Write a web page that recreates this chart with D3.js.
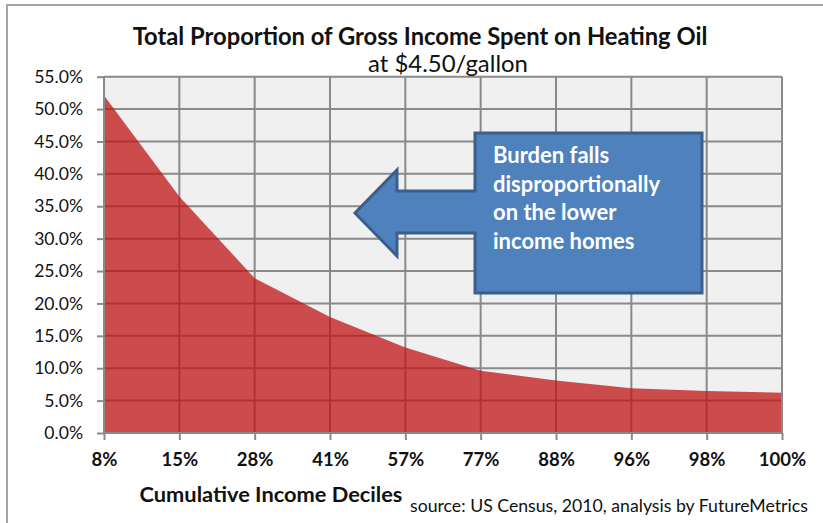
<!DOCTYPE html>
<html>
<head>
<meta charset="utf-8">
<script src="https://cdn.jsdelivr.net/npm/d3@7"></script>
<style>
  body { margin: 0; background: #fff; }
  svg { display: block; font-family: Lato, "Open Sans", sans-serif; }
</style>
</head>
<body>
<div id="chart-area"></div>
<script>
// data
var categories = ["8%", "15%", "28%", "41%", "57%", "77%", "88%", "96%", "98%", "100%"];
var shareOfIncome = [52.1, 36.5, 23.9, 17.9, 13.2, 9.6, 8.1, 6.9, 6.5, 6.2];
var yTicks = [0, 5, 10, 15, 20, 25, 30, 35, 40, 45, 50, 55];
var calloutLines = ["Burden falls", "disproportionally", "on the lower", "income homes"];

var W = 823, H = 523;
var plot = { left: 104, right: 782, top: 76.7, bottom: 433 };

var svg = d3.select("#chart-area").append("svg")
    .attr("width", W)
    .attr("height", H);

// shrink/grow a text's font-size so it spans a given width
function fit(t, w) {
    var cur = t.node().getComputedTextLength();
    var fs = parseFloat(t.attr("font-size"));
    t.attr("font-size", (fs * w / cur).toFixed(2));
    return t;
}

// chart frame (top + left edges only visible)
svg.append("path")
    .attr("d", "M7," + H + "V5H" + W)
    .attr("fill", "none")
    .attr("stroke", "#a5a5a5")
    .attr("stroke-width", 2);

//scales
var x = d3.scalePoint().domain(categories).range([plot.left, plot.right]).padding(0);
var y = d3.scaleLinear().domain([0, 55]).range([plot.bottom, plot.top]);

// plot background
svg.append("rect")
    .attr("x", plot.left).attr("y", plot.top)
    .attr("width", plot.right - plot.left)
    .attr("height", plot.bottom - plot.top)
    .attr("fill", "#f0f0f0");

// gridlines
var grid = svg.append("g").attr("stroke", "#8a8a8a").attr("stroke-width", 2);
grid.selectAll(".hg").data(yTicks).enter().append("line")
    .attr("x1", plot.left).attr("x2", plot.right)
    .attr("y1", function(d){ return y(d); })
    .attr("y2", function(d){ return y(d); });
grid.selectAll(".vg").data(categories).enter().append("line")
    .attr("x1", function(d){ return x(d); })
    .attr("x2", function(d){ return x(d); })
    .attr("y1", plot.top).attr("y2", plot.bottom);

// area
var area = d3.area()
    .x(function(d, i){ return x(categories[i]); })
    .y0(y(0))
    .y1(function(d){ return y(d); });

svg.append("path")
    .attr("d", area(shareOfIncome))
    .attr("fill", "rgb(192,18,20)")
    .attr("fill-opacity", 0.74);

// axis lines on top
svg.append("path")
    .attr("d", "M" + plot.left + "," + plot.top + "V" + plot.bottom + "H" + plot.right + "V" + plot.top)
    .attr("fill", "none")
    .attr("stroke", "#8a8a8a")
    .attr("stroke-width", 2);

//Y axis
var yAxis = svg.append("g")
    .attr("transform", "translate(" + plot.left + ",0)")
    .call(d3.axisLeft(y).tickValues(yTicks).tickSize(7).tickPadding(14)
        .tickFormat(function(d){ return d.toFixed(1) + "%"; }));
yAxis.select(".domain").remove();
yAxis.selectAll(".tick line").attr("stroke", "#8a8a8a").attr("stroke-width", 2);
yAxis.selectAll(".tick text")
    .attr("font-family", "Lato, sans-serif")
    .attr("font-size", 17.6)
    .attr("fill", "#111");

//X axis
var xAxis = svg.append("g")
    .attr("transform", "translate(0," + plot.bottom + ")")
    .call(d3.axisBottom(x).tickSize(7).tickPadding(13));
xAxis.select(".domain").remove();
xAxis.selectAll(".tick line").attr("stroke", "#8a8a8a").attr("stroke-width", 2);
xAxis.selectAll(".tick text")
    .attr("font-family", "Lato, sans-serif")
    .attr("font-size", 18.5)
    .attr("font-weight", "bold")
    .attr("fill", "#111");

// titles
fit(svg.append("text")
    .attr("x", 420).attr("y", 45)
    .attr("text-anchor", "middle")
    .attr("font-size", 20)
    .attr("font-weight", "bold")
    .attr("fill", "#111")
    .text("Total Proportion of Gross Income Spent on Heating Oil"), 575);

fit(svg.append("text")
    .attr("x", 448).attr("y", 72)
    .attr("text-anchor", "middle")
    .attr("font-size", 17)
    .attr("fill", "#111")
    .text("at $4.50/gallon"), 160);

fit(svg.append("text")
    .attr("x", 271).attr("y", 502)
    .attr("text-anchor", "middle")
    .attr("font-size", 17)
    .attr("font-weight", "bold")
    .attr("fill", "#111")
    .text("Cumulative Income Deciles"), 263);

fit(svg.append("text")
    .attr("x", 410).attr("y", 512)
    .attr("font-size", 14)
    .attr("fill", "#111")
    .text("source: US Census, 2010, analysis by FutureMetrics"), 398);

// callout arrow
svg.append("path")
    .attr("d", "M475,133H702V293H475V233H397V256L355,213L397,170V191H475Z")
    .attr("fill", "#4f81bd")
    .attr("stroke", "#3a5f8b")
    .attr("stroke-width", 3)
    .attr("stroke-linejoin", "miter");

var ct = svg.append("text")
    .attr("font-size", 18)
    .attr("font-weight", "bold")
    .attr("fill", "#fff");
ct.selectAll("tspan").data(calloutLines).enter().append("tspan")
    .attr("x", 493)
    .attr("y", function(d, i){ return 163 + i * 28.5; })
    .text(function(d){ return d; });
// scale callout font so the longest line matches
var longest = ct.selectAll("tspan").filter(function(d){ return d === "disproportionally"; });
var lw = longest.node().getComputedTextLength();
ct.attr("font-size", (18 * 167 / lw).toFixed(2));
</script>
</body>
</html>
